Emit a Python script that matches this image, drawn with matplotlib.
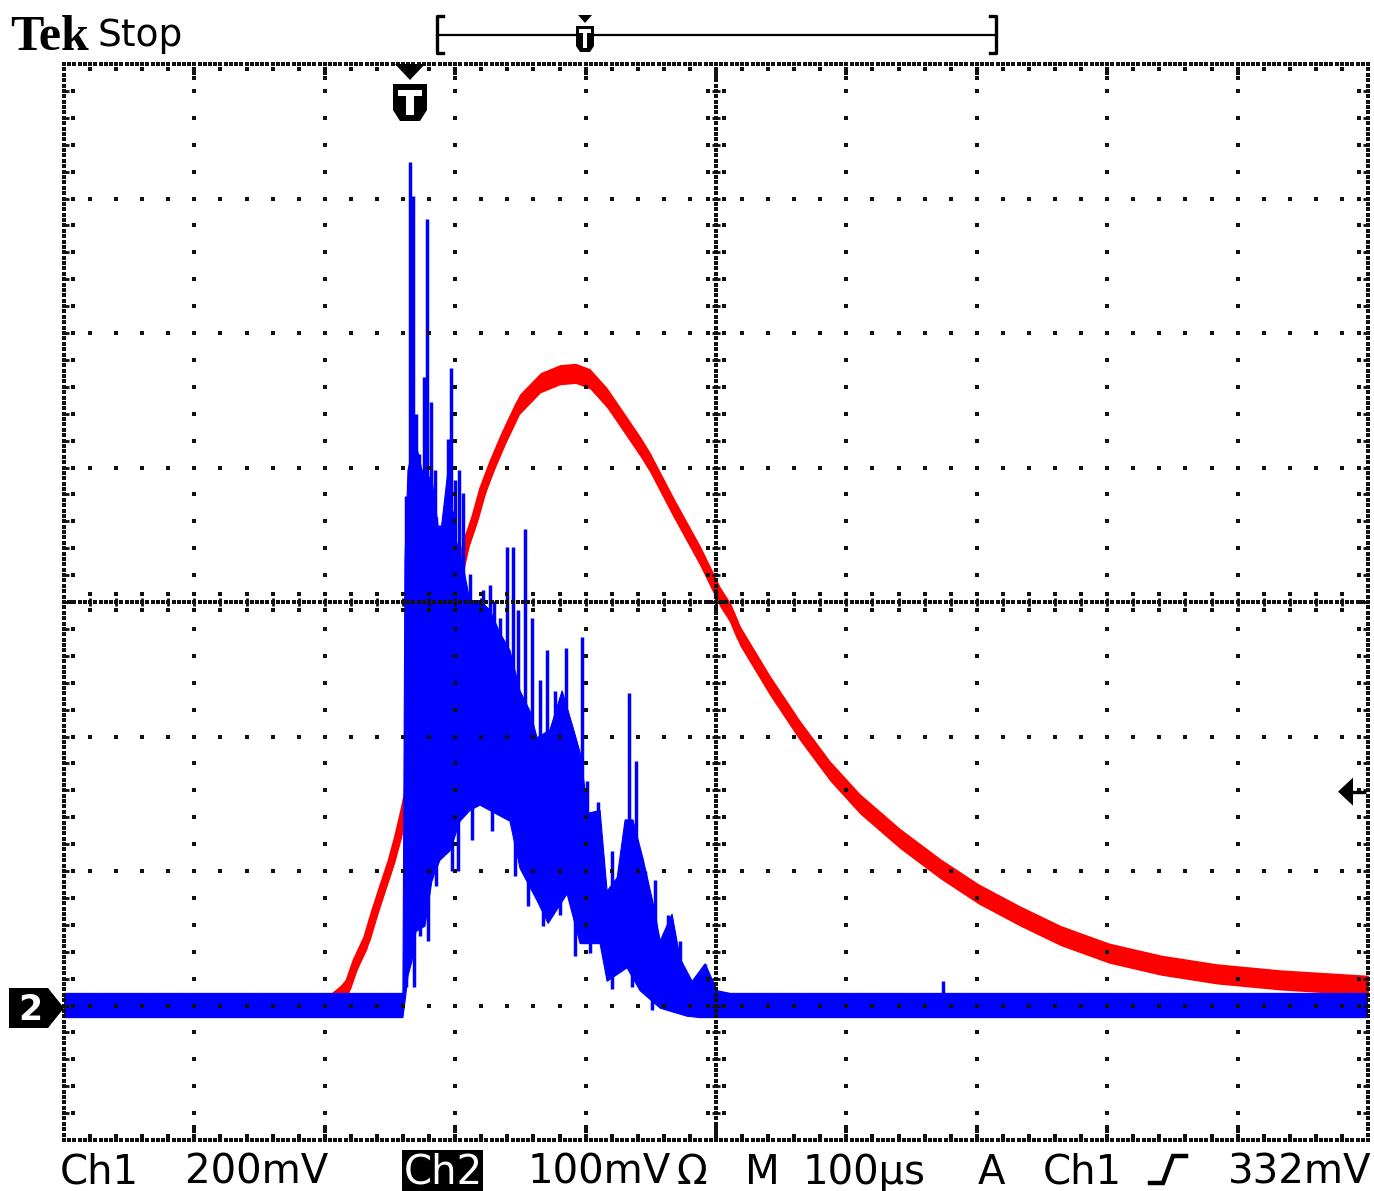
import numpy as np
import matplotlib
matplotlib.use('Agg')
import matplotlib.pyplot as plt
from matplotlib.patches import Polygon, Rectangle

# ---------------- scope settings ----------------
ch1_scale = 200.0      # mV/div
ch2_scale = 100.0      # mV/div
time_scale = 100.0     # us/div
trig_pos_div = 2.653   # trigger position from left edge (div)
ground_div = -3.0      # both channels' ground (div from centre)
trig_level_marker_mv = 318.0  # where the trigger-level arrow is drawn (Ch1 mV)

# ---------------- Ch1 (red) : time (us) , mV ----------------
ch1_t = [-265, -160, -61, -54, -48, -41, -33, -27, -21, -14, -9, -5, 0, 7.7, 15.3, 23, 30.7,
         36, 43, 50, 56, 64, 73, 84, 100, 115, 127, 138, 151, 163, 177, 184, 202, 223, 238,
         246, 253, 276, 299, 322, 345, 376, 407, 436, 468, 499, 536, 576, 619, 668, 735]
ch1_mv = [0, 0, 3, 14, 27, 66, 99, 138, 174, 215, 251, 284, 329, 393, 455, 518, 581,
          624, 685, 725, 767, 808, 849, 894, 926, 938, 940, 932, 904, 870, 830, 808, 741, 667, 607,
          583, 550, 476, 409, 349, 300, 248, 203, 166, 133, 104, 78, 60, 47, 38, 30]
ch1_noise_mv = 15

# ---------------- Ch2 (blue) envelope : time (us), mV ----------------
ch2_up_t = [-265, -5.4, -3.8, -1.5, 3.8, 9.2, 16.9, 23, 29.2, 35.3, 39.9, 46, 53.7, 61.4, 69,
            76.7, 84.4, 92, 97.5, 107.4, 116.7, 125, 130.5, 136.6, 145.8, 151.2, 158.9, 165,
            171, 178.8, 186.5, 191.9, 201, 207.2, 216.4, 226.4, 235.6, 245.6, 735]
ch2_up_mv = [9, 9, 331, 398, 421, 398, 391, 346, 398, 346, 331, 301, 301, 294, 277,
             264, 234, 219, 199, 205, 234, 207, 188, 143, 145, 85, 95, 138,
             138, 109, 76, 48, 68, 35, 18, 31, 11, 9, 9]
ch2_low_t = [-265, -5.4, -3.8, -1.5, 1.5, 4.6, 11.5, 16.9, 23, 30.7, 38.4, 46, 53.7, 69,
             76.7, 84.4, 97.5, 106, 120.5, 130.5, 145.8, 151.2, 166.5, 176.5, 191.9, 212.6,
             222.6, 735]
ch2_low_mv = [-9, -9, 3, 22, 33, 55, 59, 93, 108, 115, 137, 145, 149, 141,
              137, 102, 78, 61, 83, 46, 46, 18, 28, 11, -2, -8,
              -9, -9]

# upward spikes (tip values)
spike_up_t = [-3.1, 0, 2.3, 4.6, 6.9, 10.7, 13, 16.1, 19.2, 23, 26.1, 29.2, 31.5, 34.5, 37.6,
              40.7, 46, 50.7, 56, 61.4, 64.5, 69, 74.4, 79, 82.9, 88.3, 93.6, 99.8, 105, 111.3,
              119.7, 132, 135.8, 144.3, 155, 168, 173.4, 180.4, 188, 198, 207.2, 226.4, 409]
spike_up_mv = [379, 627, 602, 440, 410, 467, 585, 449, 398, 357, 325, 421, 474, 391, 398,
               381, 321, 292, 309, 313, 301, 288, 341, 341, 294, 354, 288, 242, 264, 234,
               266, 274, 167, 151, 115, 232, 182, 100, 93, 67, 48, 31, 18]
# downward spikes (tip values)
spike_dn_t = [3.1, 7.7, 13.8, 20, 32.2, 36.8, 47.6, 63, 80.6, 90.6, 102, 115, 126.6, 138, 155, 170, 186]
spike_dn_mv = [14, 52, 48, 89, 100, 100, 123, 130, 96, 74, 59, 67, 37, 39, 12, 14, -3]

RED = '#ff0000'
BLUE = '#0000ff'

# ---------------- figure ----------------
FW, FH = 1374, 1191
fig = plt.figure(figsize=(FW / 100, FH / 100), dpi=100, facecolor='white')

L, R, T, B = 64, 1368, 64, 1140
ax_rect = [L / FW, 1 - B / FH, (R - L) / FW, (B - T) / FH]

ax1 = fig.add_axes(ax_rect)
ax1.set_xlim(-trig_pos_div * time_scale, (10 - trig_pos_div) * time_scale)
ax1.set_ylim((-4 - ground_div) * ch1_scale, (4 - ground_div) * ch1_scale)
ax1.axis('off')

ax2 = ax1.twinx()
ax2.set_ylim((-4 - ground_div) * ch2_scale, (4 - ground_div) * ch2_scale)
ax2.axis('off')

# Ch1 trace
t1 = np.array(ch1_t, float)
v1 = np.array(ch1_mv, float)
ax1.fill_between(t1, v1 - ch1_noise_mv, v1 + ch1_noise_mv, color=RED, lw=0)
ax1.plot(t1, v1, color=RED, lw=5.8, solid_capstyle='butt', solid_joinstyle='round')

# Ch2 trace
tu = np.array(ch2_up_t, float); vu = np.array(ch2_up_mv, float)
tl = np.array(ch2_low_t, float); vl = np.array(ch2_low_mv, float)
ax2.fill(np.concatenate([tu, tl[::-1]]), np.concatenate([vu, vl[::-1]]), color=BLUE, lw=0.8,
         ec=BLUE)
sut = np.array(spike_up_t, float); suv = np.array(spike_up_mv, float)
ax2.vlines(sut, np.interp(sut, tl, vl) + 5, suv, color=BLUE, lw=2.5)
sdt = np.array(spike_dn_t, float); sdv = np.array(spike_dn_mv, float)
ax2.vlines(sdt, sdv, np.interp(sdt, tu, vu) - 5, color=BLUE, lw=2.5)

# ---------------- overlay (pixel coordinates) ----------------
g = fig.add_axes([0, 0, 1, 1], zorder=10)
g.set_xlim(0, FW); g.set_ylim(FH, 0)
g.axis('off'); g.patch.set_alpha(0)

DX = (R - L) / 10.0
DY = (B - T) / 8.0
CX = L + 5 * DX
CY = T + 4 * DY
K = '#111111'
dkw = dict(ls='none', marker='s', ms=2.4, mew=0, color=K, clip_on=False)

# graticule lines (dots every 0.2 div)
for k in range(1, 10):
    if k == 5:
        continue
    x = L + k * DX
    ys = T + np.arange(1, 40) * DY / 5
    g.plot(np.full_like(ys, x), ys, **dkw)
for k in range(1, 8):
    if k == 4:
        continue
    y = T + k * DY
    xs = L + np.arange(1, 50) * DX / 5
    g.plot(xs, np.full_like(xs, y), **dkw)

# border and centre lines (dense dots)
xs_d = L + np.arange(0, 251) * DX / 25
ys_d = T + np.arange(0, 201) * DY / 25
for y in (T, B, CY):
    g.plot(xs_d, np.full_like(xs_d, y), **dkw)
for x in (L, R, CX):
    g.plot(np.full_like(ys_d, x), ys_d, **dkw)

# centre-line ticks
for i in range(1, 50):
    x = L + i * DX / 5
    g.plot([x, x], [CY - 4, CY + 4], color=K, lw=2.0, solid_capstyle='butt')
    g.plot([x, x], [CY - 8, CY + 8], **dkw)
for i in range(1, 40):
    y = T + i * DY / 5
    g.plot([CX - 4, CX + 4], [y, y], color=K, lw=2.0, solid_capstyle='butt')
    g.plot([CX - 8, CX + 8], [y, y], **dkw)

# border ticks
for i in range(1, 50):
    x = L + i * DX / 5
    n = 3 if i % 5 == 0 else 1
    for j in range(1, n + 1):
        g.plot([x, x], [T + 4.5 * j, B - 4.5 * j], **dkw)
for i in range(1, 40):
    y = T + i * DY / 5
    g.plot([L, L + 5], [y, y], color=K, lw=2.0, solid_capstyle='butt')
    g.plot([R - 5, R], [y, y], color=K, lw=2.0, solid_capstyle='butt')
    g.plot([L + 9, R - 9], [y, y], **dkw)

# ---------------- markers ----------------
def poly(pts, color='black', z=12):
    g.add_patch(Polygon(pts, closed=True, fc=color, ec='none', zorder=z))

def rect(x0, y0, x1, y1, color='white', z=13):
    g.add_patch(Rectangle((x0, y0), x1 - x0, y1 - y0, fc=color, ec='none', zorder=z))

# trigger position marker on graticule
poly([(395, 64), (425, 64), (410, 80)])
poly([(393, 84), (427, 84), (427, 110), (420, 121), (400, 121), (393, 110)])
rect(398, 90, 422, 96)
rect(406, 90, 414, 115)

# record bracket
g.plot([437, 996], [35, 35], color='black', lw=1.6, clip_on=False)
g.plot([443, 437, 437, 443], [16, 16, 53, 53], color='black', lw=2.4, clip_on=False)
g.plot([990, 996, 996, 990], [16, 16, 53, 53], color='black', lw=2.4, clip_on=False)
poly([(578, 15), (592, 15), (585, 23)])
poly([(576, 26), (594, 26), (594, 46), (590, 52), (580, 52), (576, 46)])
rect(579, 29, 591, 33)
rect(583, 29, 587, 48)

# Ch2 ground marker
poly([(9, 988), (48, 988), (64, 1008), (48, 1028), (9, 1028)])
g.text(30, 1010, '2', color='white', fontsize=25, fontweight='bold', family='DejaVu Sans',
       ha='center', va='center', zorder=14)

# trigger level arrow (right)
ytl = ax1.transData.transform((0, trig_level_marker_mv))[1]
ytl = FH - ytl
poly([(1338, ytl), (1353, ytl - 14), (1353, ytl + 14)])
g.plot([1352, 1366], [ytl, ytl], color='black', lw=2.4, solid_capstyle='butt')

# ---------------- texts ----------------
g.text(10, 50, 'Tek', fontsize=36, fontweight='bold', family='Liberation Serif',
       ha='left', va='baseline')
g.text(98, 46, 'Stop', fontsize=27, family='DejaVu Sans', ha='left', va='baseline')

fs = 29
base = 1184
items = [(60, 'Ch1'), (185, '200mV'), (528, '100mV'), (676, 'Ω'), (745, 'M'),
         (803, '100µs'), (978, 'A'), (1043, 'Ch1'), (1228, '332mV')]
for x, s in items:
    g.text(x, base, s, fontsize=fs, family='DejaVu Sans', ha='left', va='baseline',
           color='black')
rect(402, 1150, 483, 1191, color='black', z=12)
g.text(404, base, 'Ch2', fontsize=fs, family='DejaVu Sans', ha='left', va='baseline',
       color='white', zorder=14)
g.plot([1150, 1163, 1173, 1186], [1183, 1183, 1156, 1156], color='black', lw=3.2,
       solid_joinstyle='miter', clip_on=False)

fig.savefig('out.png', dpi=100, facecolor='white')
